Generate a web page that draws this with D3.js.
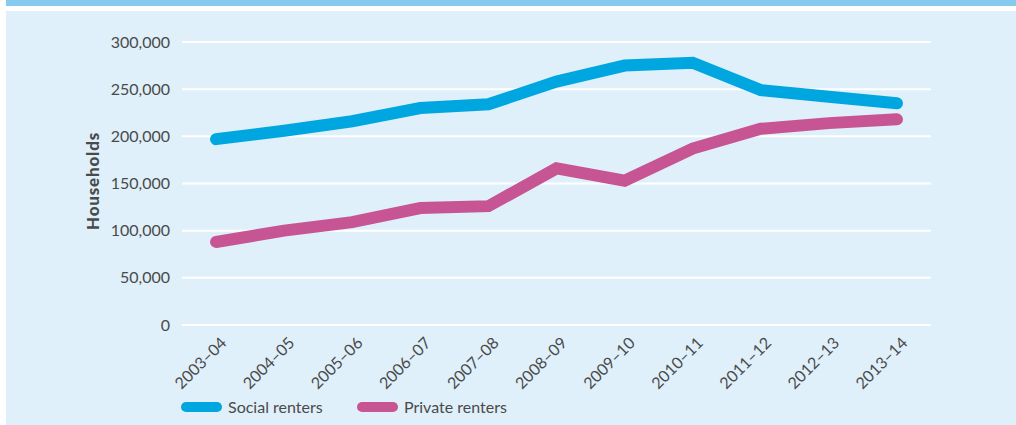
<!DOCTYPE html>
<meta charset="utf-8">
<style>
body { margin: 0; background: #fff; }
svg text { font-family: Lato, "Open Sans", sans-serif; fill: #4a4a4a; }
.grid line { stroke: #fff; stroke-width: 2px; }
</style>
<svg id="chart" width="1016" height="425"></svg>
<script src="https://cdnjs.cloudflare.com/ajax/libs/d3/7.8.5/d3.min.js"></script>
<script>

var years = ["2003–04", "2004–05", "2005–06", "2006–07", "2007–08", "2008–09",
             "2009–10", "2010–11", "2011–12", "2012–13", "2013–14"];
var social = [197000, 206000, 216000, 230000, 234000, 258000, 275000, 278000, 249000, 242000, 235000];
var privateRent = [88000, 100000, 109000, 124000, 126000, 166000, 153000, 187000, 208000, 214000, 218000];
var yTicks = [0, 50000, 100000, 150000, 200000, 250000, 300000];

var seriesNames = ["Social renters", "Private renters"];
var seriesColors = ["#00a6e0", "#c75594"];

var svg = d3.select("#chart"),
    width = +svg.attr("width"),
    height = +svg.attr("height");

// panel background + top bar
svg.append("rect").attr("x", 6).attr("y", 0).attr("width", width - 6).attr("height", 6).style("fill", "#86cbef");
svg.append("rect").attr("x", 6).attr("y", 11).attr("width", width - 6).attr("height", height - 11).style("fill", "#dff0fa");

var x = d3.scalePoint().domain(years).range([182, 931]).padding(0.5);
var y = d3.scaleLinear().domain([0, 300000]).range([325, 42]);

// gridlines
svg.append("g").attr("class", "grid")
  .selectAll("line").data(yTicks).enter().append("line")
    .attr("x1", 182).attr("x2", 931)
    .attr("y1", function(d) { return y(d); })
    .attr("y2", function(d) { return y(d); });

// y axis labels
var fmt = d3.format(",");
var yAxis = svg.append("g")
    .attr("transform", "translate(182,0)")
    .call(d3.axisLeft(y).tickValues(yTicks).tickSize(0).tickPadding(12).tickFormat(fmt));
yAxis.select(".domain").remove();
yAxis.selectAll("text").style("font-size", "16px").style("font-family", null);

svg.append("text")
    .attr("transform", "translate(99,181) rotate(-90)")
    .attr("text-anchor", "middle")
    .style("font-size", "17px")
    .style("font-weight", "900")
    .style("letter-spacing", "0.8px")
    .text("Households");

// x axis labels
var xAxis = svg.append("g")
    .attr("transform", "translate(0,325)")
    .call(d3.axisBottom(x).tickSize(0).tickPadding(0));
xAxis.select(".domain").remove();
xAxis.selectAll("text")
    .style("font-size", "16px")
    .style("font-family", null)
    .attr("text-anchor", "end")
    .attr("dy", null)
    .attr("y", 0)
    .attr("transform", function(d) { return "translate(11,19) rotate(-45)"; });

// lines
var line = d3.line()
    .x(function(d, i) { return x(years[i]); })
    .y(function(d) { return y(d); });

[social, privateRent].forEach(function(vals, k) {
  svg.append("path")
      .datum(vals)
      .attr("d", line)
      .style("fill", "none")
      .style("stroke", seriesColors[k])
      .style("stroke-width", 12)
      .style("stroke-linecap", "round")
      .style("stroke-linejoin", "miter");
});

// legend
var legendX = [186, 362];
seriesNames.forEach(function(name, k) {
  svg.append("line")
      .attr("x1", legendX[k]).attr("x2", legendX[k] + 31)
      .attr("y1", 407).attr("y2", 407)
      .style("stroke", seriesColors[k])
      .style("stroke-width", 10)
      .style("stroke-linecap", "round");
  svg.append("text")
      .attr("x", legendX[k] + 42)
      .attr("y", 413)
      .style("font-size", "16px")
      .text(name);
});

</script>
